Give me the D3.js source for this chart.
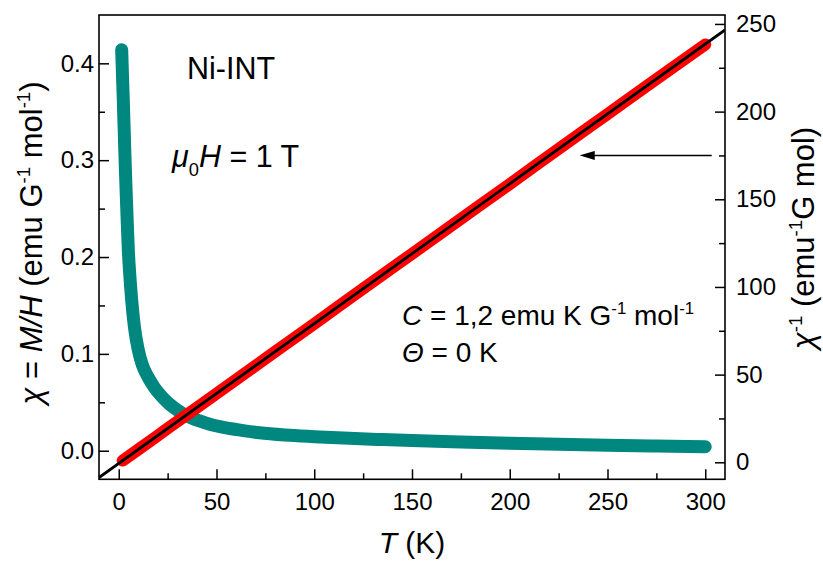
<!DOCTYPE html>
<html>
<head>
<meta charset="utf-8">
<script src="https://cdn.jsdelivr.net/npm/d3@7"></script>
<style>
  html, body { margin: 0; padding: 0; background: #fff; }
  svg { display: block; }
  text { font-family: "Liberation Sans", Arial, sans-serif; fill: #000; }
</style>
</head>
<body>
<div id="chart"></div>
<script>
// ---- data ----
// susceptibility chi = M/H (left axis)
const chiT = [1.5, 2.2, 2.8, 3.4, 4.1, 4.9, 5.7, 6.6, 8, 10, 12, 15, 18, 22, 26, 30, 35, 41, 47, 55, 63, 72, 85, 100, 118, 135, 150, 175, 200, 225, 250, 275, 300];
const chiV = [0.414, 0.37, 0.33, 0.29, 0.25, 0.207, 0.18, 0.156, 0.128, 0.104, 0.089, 0.076, 0.066, 0.056, 0.048, 0.042, 0.036, 0.031, 0.027, 0.0235, 0.021, 0.0185, 0.0162, 0.0145, 0.0128, 0.0115, 0.0105, 0.0091, 0.0078, 0.0067, 0.0057, 0.0049, 0.0042];
// inverse susceptibility (right axis)
const invT = [2, 10, 25, 50, 75, 100, 125, 150, 175, 200, 225, 250, 275, 300];
const invV = [1.0, 7.3, 19.3, 39.2, 59.1, 79.0, 99.0, 118.9, 138.8, 158.7, 178.7, 198.6, 218.5, 238.3];
// Curie-Weiss fit line (end points)
const fitT = [-10.1, 310.1];
const fitV = [-8.7, 246.6];
// ticks
const xMajor = [0, 50, 100, 150, 200, 250, 300];
const xMinor = [25, 75, 125, 175, 225, 275];
const yLMajor = [0.0, 0.1, 0.2, 0.3, 0.4];
const yLMinor = [0.05, 0.15, 0.25, 0.35];
const yRMajor = [0, 50, 100, 150, 200, 250];
const yRMinor = [25, 75, 125, 175, 225];
// arrow (T from, T to, chi^-1 level)
const arrowT = [303.3, 236.3];
const arrowV = 175;

// ---- layout ----
const W = 823, H = 561;
const L = 99, R = 725, T = 15, B = 479.3;
const tickFont = 24, titleFont = 31, annFont = 30.5, annFont2 = 28;

const svg = d3.select("#chart").append("svg").attr("width", W).attr("height", H);

const x = d3.scaleLinear().domain([-10.1, 310.1]).range([L, R]);
const yL = d3.scaleLinear().domain([-0.0295, 0.4499]).range([B, T]);
const yR = d3.scaleLinear().domain([-9.7, 255.1]).range([B, T]);

svg.append("defs").append("clipPath").attr("id", "clip")
  .append("rect").attr("x", L).attr("y", T).attr("width", R - L).attr("height", B - T);

const plot = svg.append("g").attr("clip-path", "url(#clip)");

// teal chi curve
const chiData = chiT.map((t, i) => [t, chiV[i]]);
plot.append("path")
  .attr("d", d3.line().x(d => x(d[0])).y(d => yL(d[1])).curve(d3.curveMonotoneX)(chiData))
  .attr("fill", "none").attr("stroke", "#008780").attr("stroke-width", 13)
  .attr("stroke-linecap", "round").attr("stroke-linejoin", "round");

// red inverse data
const invData = invT.map((t, i) => [t, invV[i]]);
plot.append("path")
  .attr("d", d3.line().x(d => x(d[0])).y(d => yR(d[1])).curve(d3.curveMonotoneX)(invData))
  .attr("fill", "none").attr("stroke", "#ff0000").attr("stroke-width", 12)
  .attr("stroke-linecap", "round").attr("stroke-linejoin", "round");

// black fit line
const fitData = fitT.map((t, i) => [t, fitV[i]]);
plot.append("path")
  .attr("d", d3.line().x(d => x(d[0])).y(d => yR(d[1]))(fitData))
  .attr("fill", "none").attr("stroke", "#000").attr("stroke-width", 2.8);

// axes
function styleAxis(g) {
  g.select(".domain").remove();
  g.selectAll(".tick line").attr("stroke", "#000").attr("stroke-width", 1.5);
  g.selectAll(".tick text").attr("font-size", tickFont).attr("font-family", '"Liberation Sans", Arial, sans-serif').attr("fill", "#000");
}
const gx = svg.append("g").attr("transform", `translate(0,${B})`)
  .call(d3.axisBottom(x).tickValues(xMajor).tickSize(-10).tickPadding(14).tickFormat(d3.format("d")));
styleAxis(gx);
const gxm = svg.append("g").attr("transform", `translate(0,${B})`)
  .call(d3.axisBottom(x).tickValues(xMinor).tickSize(-6).tickFormat(""));
styleAxis(gxm);

const gl = svg.append("g").attr("transform", `translate(${L},0)`)
  .call(d3.axisLeft(yL).tickValues(yLMajor).tickSize(-10).tickPadding(5).tickFormat(d3.format(".1f")));
styleAxis(gl);
const glm = svg.append("g").attr("transform", `translate(${L},0)`)
  .call(d3.axisLeft(yL).tickValues(yLMinor).tickSize(-6).tickFormat(""));
styleAxis(glm);

const gr = svg.append("g").attr("transform", `translate(${R},0)`)
  .call(d3.axisRight(yR).tickValues(yRMajor).tickSize(-10).tickPadding(11).tickFormat(d3.format("d")));
styleAxis(gr);
const grm = svg.append("g").attr("transform", `translate(${R},0)`)
  .call(d3.axisRight(yR).tickValues(yRMinor).tickSize(-6).tickFormat(""));
styleAxis(grm);

// frame
svg.append("rect").attr("x", L).attr("y", T).attr("width", R - L).attr("height", B - T)
  .attr("fill", "none").attr("stroke", "#000").attr("stroke-width", 1.6);

// arrow
svg.append("defs").append("marker").attr("id", "ah")
  .attr("viewBox", "0 0 15 9").attr("refX", 1).attr("refY", 4.5)
  .attr("markerWidth", 15).attr("markerHeight", 9).attr("markerUnits", "userSpaceOnUse")
  .attr("orient", "auto")
  .append("path").attr("d", "M0,0 L15,4.5 L0,9 Z").attr("fill", "#000");
svg.append("line")
  .attr("x1", x(arrowT[0])).attr("x2", x(arrowT[1]) + 13)
  .attr("y1", yR(arrowV)).attr("y2", yR(arrowV))
  .attr("stroke", "#000").attr("stroke-width", 1.6)
  .attr("marker-end", "url(#ah)");

// rich text helper
function rich(sel, parts, fs) {
  let shift = 0;
  parts.forEach(p => {
    const ts = sel.append("tspan").text(p.t);
    const target = p.sup ? -0.4 * fs : (p.sub ? 0.28 * fs : 0);
    if (target !== shift) ts.attr("dy", target - shift);
    shift = target;
    if (p.sup || p.sub) ts.attr("font-size", fs * 0.6);
    if (p.i) ts.attr("font-style", "italic");
  });
}

// axis titles
const tx = svg.append("text").attr("x", (L + R) / 2).attr("y", 553)
  .attr("text-anchor", "middle").attr("font-size", 30);
rich(tx, [{t: "T", i: true}, {t: " (K)"}], 30);

const tl = svg.append("text").attr("transform", "translate(42,243) rotate(-90)")
  .attr("text-anchor", "middle").attr("font-size", titleFont);
rich(tl, [{t: "χ", i: true}, {t: " = "}, {t: "M", i: true}, {t: "/", i: true}, {t: "H", i: true},
  {t: " (emu G"}, {t: "-1", sup: true}, {t: " mol"}, {t: "-1", sup: true}, {t: ")"}], titleFont);

const tr = svg.append("text").attr("transform", "translate(814,238) rotate(-90)")
  .attr("text-anchor", "middle").attr("font-size", titleFont);
rich(tr, [{t: "χ", i: true}, {t: "-1", sup: true}, {t: " (emu"}, {t: "-1", sup: true}, {t: "G mol)"}], titleFont);

// annotations
svg.append("text").attr("x", 187).attr("y", 79).attr("font-size", annFont).text("Ni-INT");

const a2 = svg.append("text").attr("x", 172).attr("y", 167).attr("font-size", annFont);
rich(a2, [{t: "μ", i: true}, {t: "0", sub: true}, {t: "H", i: true}, {t: " = 1 T"}], annFont);

const a3 = svg.append("text").attr("x", 402).attr("y", 325).attr("font-size", annFont2);
rich(a3, [{t: "C", i: true}, {t: " = 1,2 emu K G"}, {t: "-1", sup: true}, {t: " mol"}, {t: "-1", sup: true}], annFont2);

const a4 = svg.append("text").attr("x", 402).attr("y", 362).attr("font-size", annFont2);
rich(a4, [{t: "Θ", i: true}, {t: " = 0 K"}], annFont2);
</script>
</body>
</html>
